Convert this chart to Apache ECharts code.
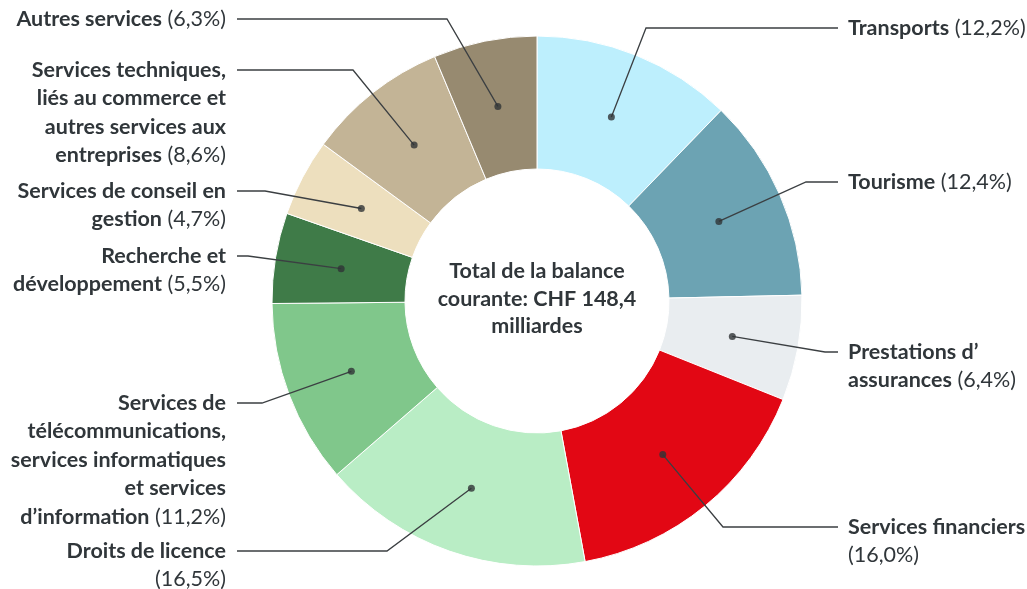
<!DOCTYPE html>
<html>
<head>
<meta charset="utf-8">
<script src="https://cdn.jsdelivr.net/npm/echarts@6/dist/echarts.min.js"></script>
<style>
html, body { margin: 0; padding: 0; background: #fff; }
#chart { width: 1027px; height: 589px; }
</style>
</head>
<body>
<div id="chart"></div>
<script>
// data
var categories = [
    'Transports',
    'Tourisme',
    'Prestations d’\nassurances',
    'Services financiers\n',
    'Droits de licence\n',
    'Services de\ntélécommunications,\nservices informatiques\net services\nd’information',
    'Recherche et\ndéveloppement',
    'Services de conseil en\ngestion',
    'Services techniques,\nliés au commerce et\nautres services aux\nentreprises',
    'Autres services'
];
var shares = [12.2, 12.4, 6.4, 16.0, 16.5, 11.2, 5.5, 4.7, 8.6, 6.3];
var colors = ['#bdeffd', '#6ca3b3', '#e9edf0', '#e20714', '#b9edc5',
    '#80c78b', '#3f7b48', '#eddfbe', '#c3b496', '#978a70'];
var centerText = 'Total de la balance\ncourante: CHF 148,4\nmilliardes';

// layout of the callouts: y of the first text line, x of the line bend
var labelY = [28, 182, 352, 527, 551, 403, 256, 191, 70, 19];
var bendX = [646, 806, 825, 723, 387, 262, 248, 265, 353, 447];

var CX = 537, CY = 301, R_IN = 132, R_OUT = 265;
var R_MID = (R_IN + R_OUT) / 2;
var LINE_H = 28.5;
var FS = 21.5;
var TEXT = '#30363a';
var FONT = 'Lato';

var total = shares.reduce(function (a, b) { return a + b; }, 0);
var mids = [];
var acc = 0;
shares.forEach(function (v) { mids.push(acc + v / 2); acc += v; });

var pieData = categories.map(function (c, i) {
    return { name: c, value: shares[i], itemStyle: { color: colors[i] } };
});

function fmt(p) {
    var lines = p.name.split('\n');
    var pct = '{p|(' + p.value.toFixed(1).replace('.', ',') + '%)}';
    return lines.map(function (l, i) {
        var s = l ? '{b|' + l + '}' : '';
        if (i === lines.length - 1) s += (l ? '{p| }' : '') + pct;
        return s;
    }).join('\n');
}

var chart = echarts.init(document.getElementById('chart'));
chart.setOption({
    animation: false,
    polar: { center: [CX, CY], radius: [0, R_OUT] },
    angleAxis: { type: 'value', min: 0, max: total, startAngle: 90, clockwise: true, show: false },
    radiusAxis: { type: 'value', min: 0, max: R_OUT, show: false },
    graphic: [{
        type: 'text',
        x: CX,
        y: CY - 2,
        style: {
            text: centerText,
            align: 'center',
            verticalAlign: 'middle',
            fill: TEXT,
            font: 'bold ' + FS + 'px ' + FONT,
            lineHeight: 27.5
        }
    }],
    series: [
        {
            type: 'pie',
            center: [CX, CY],
            radius: [R_IN, R_OUT],
            startAngle: 90,
            silent: true,
            z: 2,
            itemStyle: { borderColor: '#fff', borderWidth: 1 },
            label: { show: false },
            labelLine: { show: false },
            data: pieData
        },
        {
            type: 'pie',
            center: [CX, CY],
            radius: [0, R_MID],
            startAngle: 90,
            silent: true,
            z: 3,
            itemStyle: { color: 'rgba(0,0,0,0)' },
            label: {
                show: true,
                position: 'outer',
                overflow: 'none',
                color: TEXT,
                fontFamily: FONT,
                fontSize: FS,
                lineHeight: LINE_H,
                formatter: fmt,
                rich: {
                    b: { fontFamily: FONT, fontSize: FS, fontWeight: 'bold', color: TEXT, lineHeight: LINE_H },
                    p: { fontFamily: FONT, fontSize: FS, fontWeight: 'normal', color: TEXT, lineHeight: LINE_H }
                }
            },
            labelLine: { show: true, lineStyle: { color: '#3b3f42', width: 1.3 } },
            labelLayout: function (params) {
                var i = params.dataIndex;
                var left = bendX[i] < CX;
                var y = labelY[i];
                var p0 = params.labelLinePoints[0];
                return {
                    x: left ? 226 : 848,
                    y: y - LINE_H / 2,
                    align: left ? 'right' : 'left',
                    verticalAlign: 'top',
                    labelLinePoints: [p0, [bendX[i], y], [left ? 237 : 838, y]]
                };
            },
            data: pieData.map(function (d) { return { name: d.name, value: d.value }; })
        },
        {
            type: 'scatter',
            coordinateSystem: 'polar',
            symbolSize: 7,
            silent: true,
            z: 5,
            itemStyle: { color: '#2f3336' },
            data: mids.map(function (m) { return [R_MID, m]; })
        }
    ]
});
</script>
</body>
</html>
